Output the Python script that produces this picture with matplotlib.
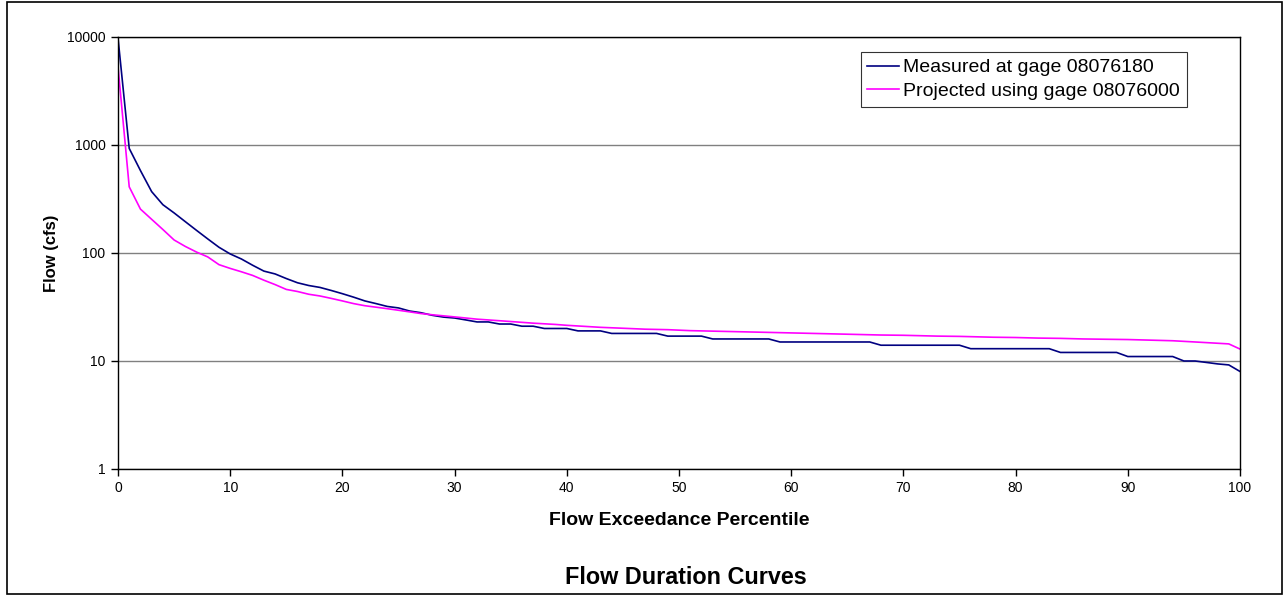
import matplotlib
matplotlib.use("Agg")
import matplotlib.pyplot as plt
from matplotlib.patches import Rectangle
from matplotlib.ticker import FixedLocator, FixedFormatter, NullLocator

plt.rcParams['font.family'] = ['Liberation Sans', 'DejaVu Sans']

percentile = list(range(0, 101))

measured = [
    9800, 930, 580, 370, 280, 235, 195, 162, 135, 113,
    98, 88, 77, 68, 64, 58, 53, 50, 48, 45,
    42, 39, 36, 34, 32, 31, 29, 28, 26.5, 25.5,
    25, 24, 23, 23, 22, 22, 21, 21, 20, 20,
    20, 19, 19, 19, 18, 18, 18, 18, 18, 17,
    17, 17, 17, 16, 16, 16, 16, 16, 16, 15,
    15, 15, 15, 15, 15, 15, 15, 15, 14, 14,
    14, 14, 14, 14, 14, 14, 13, 13, 13, 13,
    13, 13, 13, 13, 12, 12, 12, 12, 12, 12,
    11, 11, 11, 11, 11, 10, 10, 9.7, 9.4, 9.2,
    8.0,
]

projected = [
    5300, 410, 255, 205, 165, 132, 115, 102, 92, 78,
    72, 67, 62, 56, 51, 46, 44, 41.5, 40, 38,
    36, 34, 32.5, 31.5, 30.5, 29.5, 28.5, 27.5, 26.8, 26.2,
    25.6, 25.0, 24.4, 24.0, 23.6, 23.2, 22.8, 22.4, 22.1, 21.8,
    21.4, 21.1, 20.8, 20.5, 20.3, 20.1, 19.9, 19.7, 19.6, 19.5,
    19.3, 19.1, 19.0, 18.9, 18.8, 18.7, 18.6, 18.5, 18.4, 18.3,
    18.2, 18.1, 18.0, 17.9, 17.8, 17.7, 17.6, 17.5, 17.4, 17.35,
    17.3, 17.2, 17.1, 17.0, 16.95, 16.9, 16.8, 16.7, 16.6, 16.55,
    16.5, 16.4, 16.3, 16.25, 16.2, 16.1, 16.0, 15.95, 15.9, 15.85,
    15.8, 15.7, 15.6, 15.5, 15.4, 15.2, 15.0, 14.8, 14.6, 14.4,
    12.9,
]

ytick_vals = [1, 10, 100, 1000, 10000]
ytick_labels = ["1", "10", "100", "1000", "10000"]
xtick_vals = list(range(0, 101, 10))

fig = plt.figure(figsize=(12.86, 5.95), dpi=100)
ax = fig.add_axes([118 / 1286, 1 - 469 / 595, (1240 - 118) / 1286, (469 - 37) / 595])

ax.plot(percentile, measured, color="#000080", lw=1.2, label="Measured at gage 08076180")
ax.plot(percentile, projected, color="#FF00FF", lw=1.2, label="Projected using gage 08076000")

ax.set_yscale("log")
ax.set_ylim(1, 10000)
ax.set_xlim(0, 100)
ax.yaxis.set_major_locator(FixedLocator(ytick_vals))
ax.yaxis.set_major_formatter(FixedFormatter(ytick_labels))
ax.yaxis.set_minor_locator(NullLocator())
ax.set_xticks(xtick_vals)
ax.tick_params(axis="both", direction="out", length=5, width=1, labelsize=10, pad=4)

ax.grid(axis="y", color="#808080", lw=1)
ax.set_axisbelow(True)
for s in ax.spines.values():
    s.set_color("black")
    s.set_linewidth(1)

ax.set_xlabel("Flow Exceedance Percentile", fontsize=14, fontweight="bold", labelpad=12)
ax.set_ylabel("Flow (cfs)", fontsize=12, fontweight="bold", labelpad=6)

leg = ax.legend(loc="upper right", bbox_to_anchor=(1187 / 1286, 1 - 52 / 595),
                bbox_transform=fig.transFigure, fontsize=14, frameon=True,
                fancybox=False, edgecolor="black", handlelength=1.6,
                handletextpad=0.25, borderpad=0.35, borderaxespad=0,
                labelspacing=0.3)
leg.get_frame().set_linewidth(0.8)

fig.text(686 / 1286, 1 - 577 / 595, "Flow Duration Curves", ha="center", va="center",
         fontsize=16.8, fontweight="bold")

fig.patches.append(Rectangle((7 / 1286, 1 / 595), 1275 / 1286, 592 / 595,
                             transform=fig.transFigure, fill=False,
                             edgecolor="black", lw=1.2))

fig.savefig("out.png", dpi=100)
